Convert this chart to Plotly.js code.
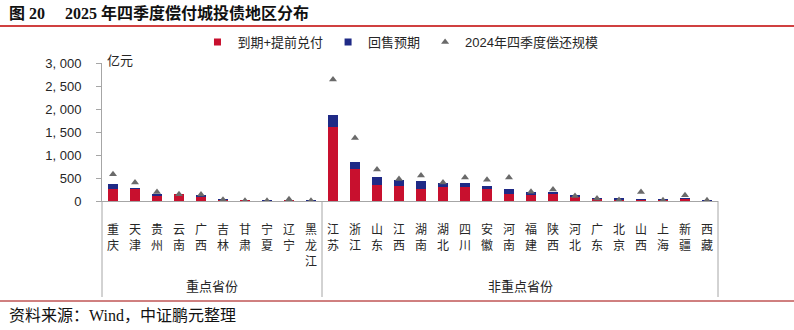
<!DOCTYPE html>
<html>
<head>
<meta charset="utf-8">
<script src="https://cdn.plot.ly/plotly-3.0.1.min.js"></script>
<style>html,body{margin:0;padding:0;background:#fff;}#chart{width:794px;height:330px;}</style>
</head>
<body>
<div id="chart"></div>
<script>
// ---- data ----
const groupNames = ["重点省份", "非重点省份"];
const keyProvinces = ["重庆","天津","贵州","云南","广西","吉林","甘肃","宁夏","辽宁","黑龙江"];
const otherProvinces = ["江苏","浙江","山东","江西","湖南","湖北","四川","安徽","河南","福建","陕西","河北","广东","北京","山西","上海","新疆","西藏"];
const maturityRedemption = [267,252,108,148,93,22,15,3,18,3, 1604,686,348,327,265,300,300,265,160,138,158,95,37,25,18,20,45,2];
const putbackExpected    = [108,21,44,4,28,28,5,15,5,15, 268,159,182,125,165,100,100,60,105,62,42,35,36,45,34,32,28,18];
const repaid2024Q4       = [580,403,195,147,143,28,8,5,39,8, 2640,1370,686,478,553,400,510,460,510,200,250,108,52,20,195,15,124,15];
const yTickVals = [0,500,1000,1500,2000,2500,3000];
const yTickText = ["0","500","1, 000","1, 500","2, 000","2, 500","3, 000"];

// ---- derived ----
const categories = keyProvinces.concat(otherProvinces);
const verticalLabels = categories.map(p => p.split("").join("<br>"));
const nCat = categories.length, nKey = keyProvinces.length;

const RED = "#C8102E", NAVY = "#1F2A86", TRI = "#6A6A6A", TXT = "#262626", AXC = "#A6A6A6";
const CJK = "'Liberation Sans', Arial, 'Noto Sans CJK SC', sans-serif";

// plot-area pixel geometry (for paper-coordinate decorations)
const L = 102, R = 76, T = 63, B = 129, W = 794, H = 330;
const pw = W - L - R, ph = H - T - B;
const px = x => (x - L) / pw;          // pixel x -> paper x
const py = y => (H - B - y) / ph;      // pixel y -> paper y

const traces = [
  {type:"bar", name:"到期+提前兑付", x:categories, y:maturityRedemption, marker:{color:RED}, showlegend:false, hoverinfo:"y"},
  {type:"bar", name:"回售预期", x:categories, y:putbackExpected, marker:{color:NAVY}, showlegend:false, hoverinfo:"y"},
  {type:"scatter", mode:"markers", name:"2024年四季度偿还规模", x:categories, y:repaid2024Q4,
   marker:{symbol:"triangle-up", size:7, color:TRI}, showlegend:false, hoverinfo:"y"},
  // legend swatches
  {type:"scatter", mode:"markers", name:"到期+提前兑付", x:[null], y:[null], marker:{symbol:"square", size:7, color:RED}},
  {type:"scatter", mode:"markers", name:"回售预期", x:[null], y:[null], marker:{symbol:"square", size:7, color:NAVY}},
  {type:"scatter", mode:"markers", name:"2024年四季度偿还规模", x:[null], y:[null], marker:{symbol:"triangle-up", size:7, color:TRI}}
];

const layout = {
  width:W, height:H,
  margin:{l:L, r:R, t:T, b:B},
  paper_bgcolor:"#fff", plot_bgcolor:"#fff",
  barmode:"stack", bargap:0.52,
  font:{family:CJK, size:12, color:TXT},
  showlegend:true,
  legend:{orientation:"h", x:0.155, xanchor:"left", y:py(42), yanchor:"middle",
          font:{family:CJK, size:13, color:TXT}, itemwidth:30, traceorder:"normal", bgcolor:"rgba(0,0,0,0)"},
  xaxis:{type:"category", range:[-0.5, nCat-0.5], tickvals:categories, ticktext:verticalLabels,
         showline:true, linecolor:AXC, linewidth:1, ticks:"", tickangle:0,
         showgrid:false, zeroline:false, automargin:false, ticklabelstandoff:18,
         tickfont:{family:CJK, size:12, color:TXT}},
  yaxis:{range:[0,3000], tickvals:yTickVals, ticktext:yTickText, showline:true, linecolor:AXC, linewidth:1,
         ticks:"outside", ticklen:5, tickcolor:AXC, showgrid:false, zeroline:false, automargin:false,
         ticklabelstandoff:12, tickfont:{family:CJK, size:13, color:TXT}},
  annotations:[
    {xref:"paper", yref:"paper", x:px(105), y:py(61), xanchor:"left", yanchor:"middle", showarrow:false,
     text:"亿元", font:{family:CJK, size:13, color:TXT}},
    {xref:"paper", yref:"paper", x:(nKey/2)/nCat, y:py(286), xanchor:"center", yanchor:"middle", showarrow:false,
     text:groupNames[0], font:{family:CJK, size:13, color:TXT}},
    {xref:"paper", yref:"paper", x:((nKey+nCat)/2)/nCat, y:py(286), xanchor:"center", yanchor:"middle", showarrow:false,
     text:groupNames[1], font:{family:CJK, size:13, color:TXT}},
    {xref:"paper", yref:"paper", x:px(7), y:py(13), xanchor:"left", yanchor:"middle", showarrow:false,
     text:"图 20\u00A0\u00A0\u00A0\u00A0 2025 年四季度偿付城投债地区分布",
     font:{family:"'Liberation Serif', 'Times New Roman', 'Noto Sans CJK SC', serif", size:16, color:"#111", weight:"bold"}},
    {xref:"paper", yref:"paper", x:px(7), y:py(315), xanchor:"left", yanchor:"middle", showarrow:false,
     text:"资料来源：Wind，中证鹏元整理",
     font:{family:"'Liberation Serif', 'Times New Roman', 'Noto Sans CJK SC', serif", size:16, color:"#111"}}
  ],
  shapes:[
    // group dividers
    {type:"line", xref:"paper", yref:"paper", x0:0, x1:0, y0:0, y1:py(297), line:{color:AXC, width:1}},
    {type:"line", xref:"paper", yref:"paper", x0:nKey/nCat, x1:nKey/nCat, y0:0, y1:py(297), line:{color:AXC, width:1}},
    {type:"line", xref:"paper", yref:"paper", x0:1, x1:1, y0:0, y1:py(297), line:{color:AXC, width:1}},
    // title rule and footer rule
    {type:"line", xref:"paper", yref:"paper", x0:px(0), x1:px(W), y0:py(26), y1:py(26), line:{color:"#C00000", width:1.5}},
    {type:"line", xref:"paper", yref:"paper", x0:px(0), x1:px(W), y0:py(301), y1:py(301), line:{color:"#A00000", width:1}}
  ]
};

Plotly.newPlot("chart", traces, layout, {staticPlot:true, displayModeBar:false});
</script>
</body>
</html>
